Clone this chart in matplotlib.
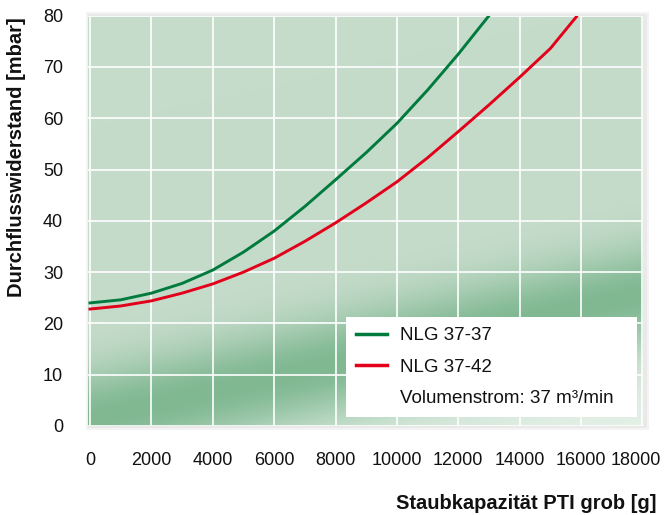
import matplotlib
matplotlib.use("Agg")
import matplotlib.pyplot as plt
import matplotlib.transforms as mtransforms
import numpy as np
from matplotlib.lines import Line2D
from matplotlib.patches import Rectangle

plt.rcParams['font.family'] = ['Liberation Sans', 'DejaVu Sans']

# values
dust_green = [0, 1000, 2000, 3000, 4000, 5000, 6000, 7000, 8000, 9000, 10000, 11000, 12000, 13000]
dp_green = [24.0, 24.6, 25.9, 27.8, 30.4, 33.9, 38.0, 42.8, 48.0, 53.3, 59.0, 65.5, 72.5, 80.0]

dust_red = [0, 1000, 2000, 3000, 4000, 5000, 6000, 7000, 8000, 9000, 10000, 11000, 12000,
            13000, 14000, 15000, 15850]
dp_red = [22.8, 23.4, 24.4, 25.9, 27.7, 30.0, 32.7, 36.0, 39.6, 43.5, 47.6, 52.3, 57.4,
          62.6, 68.0, 73.6, 79.8]

x_ticks = [0, 2000, 4000, 6000, 8000, 10000, 12000, 14000, 16000, 18000]
y_ticks = [0, 10, 20, 30, 40, 50, 60, 70, 80]

label_green = "NLG 37-37"
label_red = "NLG 37-42"
label_flow = "Volumenstrom: 37 m³/min"

GREEN = "#007a3d"
RED = "#e2001a"

W, H = 664, 515
fig = plt.figure(figsize=(W / 100, H / 100), dpi=100)
ax_l, ax_r, ax_t, ax_b = 88, 643, 15.7, 426
ax = fig.add_axes([ax_l / W, 1 - ax_b / H, (ax_r - ax_l) / W, (ax_b - ax_t) / H])

# soft shadow around the plot area
for off, col in [(4, "#f3f3f3"), (2, "#e9e9e9")]:
    fig.patches.append(Rectangle(((ax_l - off + 2) / W, 1 - (ax_b + off) / H),
                                 (ax_r - ax_l + 2 * off) / W, (ax_b - ax_t + 2 * off) / H,
                                 transform=fig.transFigure, facecolor=col,
                                 edgecolor="none", zorder=-5))

# diagonal green gradient background
u = np.linspace(0, 1, 400)
v = np.linspace(0, 1, 300)
U, V = np.meshgrid(u, v)
center = 0.015 + 0.305 * U
s = V - center
top = np.array([198, 220, 203]) / 255
dark = np.array([128, 184, 146]) / 255
light = np.array([228, 240, 231]) / 255
f = np.exp(-(np.clip(s, 0, None) / 0.12) ** 2)
g = 1 - np.exp(-(np.clip(-s, 0, None) / 0.15) ** 2)
img = np.where((s >= 0)[..., None],
               top + (dark - top) * f[..., None],
               dark + (light - dark) * g[..., None])
ax.imshow(img, extent=[0, 1, 0, 1], origin="lower", aspect="auto",
          transform=ax.transAxes, zorder=0)

ax.plot(dust_green, dp_green, color=GREEN, lw=2.1, zorder=3)
ax.plot(dust_red, dp_red, color=RED, lw=2.1, zorder=3)

ax.set_xlim(-65, 18020)
ax.set_ylim(0, 80)
ax.set_xticks(x_ticks)
ax.set_yticks(y_ticks)
ax.set_axisbelow(True)
ax.grid(True, color="white", lw=1.2)
for sp in ax.spines.values():
    sp.set_visible(False)
ax.tick_params(length=0, labelsize=13, colors="#111111")
ax.tick_params(axis="x", pad=19)
ax.tick_params(axis="y", pad=18)

# keep the last x label inside the figure
last = ax.get_xticklabels()[-1]
last.set_transform(last.get_transform() +
                   mtransforms.ScaledTranslation(-7 / 100, 0, fig.dpi_scale_trans))

fig.text(17 / W, 1 - 157 / H, "Durchflusswiderstand [mbar]", rotation=90,
         ha="center", va="center", fontsize=14.5, fontweight="bold", color="#111111")
fig.text(656 / W, 1 - 509 / H, "Staubkapazität PTI grob [g]",
         ha="right", va="baseline", fontsize=14.5, fontweight="bold", color="#111111")

handles = [Line2D([], [], color=GREEN, lw=2.5),
           Line2D([], [], color=RED, lw=2.5),
           Line2D([], [], color="none")]
leg = ax.legend(handles, [label_green, label_red, label_flow],
                loc="upper left",
                bbox_to_anchor=(346 / W, 1 - 317 / H, (637 - 346) / W, 0),
                bbox_transform=fig.transFigure, mode="expand",
                fontsize=13.5, frameon=True, fancybox=False, framealpha=1,
                facecolor="white", edgecolor="none", borderpad=0.55,
                handlelength=1.65, handletextpad=0.7, labelspacing=0.75,
                borderaxespad=0)
leg.set_zorder(5)
for t in leg.get_texts():
    t.set_color("#111111")

fig.savefig("out.png", dpi=100)
